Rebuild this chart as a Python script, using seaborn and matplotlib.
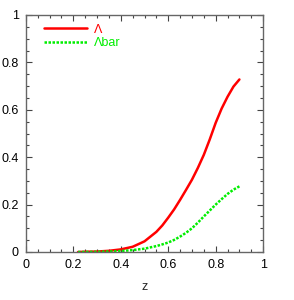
import seaborn as sns
import matplotlib.pyplot as plt
import pandas as pd
from matplotlib.ticker import MultipleLocator, FuncFormatter

z = [0.22, 0.25, 0.30, 0.35, 0.40, 0.45, 0.50, 0.55, 0.575, 0.60, 0.625, 0.65, 0.675,
     0.70, 0.725, 0.75, 0.775, 0.80, 0.825, 0.85, 0.875, 0.90]
a_vals = [0.0, 0.001, 0.002, 0.005, 0.011, 0.022, 0.045, 0.085, 0.112, 0.145, 0.180, 0.22, 0.262,
          0.305, 0.355, 0.41, 0.475, 0.545, 0.605, 0.655, 0.698, 0.728]
abar_vals = [0.0, 0.0003, 0.001, 0.002, 0.004, 0.008, 0.014, 0.025, 0.032, 0.04, 0.051, 0.065, 0.081,
             0.10, 0.124, 0.15, 0.175, 0.20, 0.223, 0.245, 0.263, 0.277]
labels = ["\u039b", "\u039bbar"]

df = pd.concat([
    pd.DataFrame({"z": z, "value": a_vals, "series": labels[0]}),
    pd.DataFrame({"z": z, "value": abar_vals, "series": labels[1]}),
])

sns.set_style("ticks")
plt.rcParams['font.family'] = ['Liberation Sans', 'DejaVu Sans']

fig = plt.figure(figsize=(2.94, 3.0), dpi=100)
ax = fig.add_axes([0.088, 0.16, 0.807, 0.79])

palette = {labels[0]: "#ff0000", labels[1]: "#00ee00"}
sns.lineplot(data=df, x="z", y="value", hue="series", style="series",
             palette=palette, dashes={labels[0]: "", labels[1]: (1, 0.6)},
             linewidth=1.8, ax=ax)

ax.set_xlim(0, 1)
ax.set_ylim(0, 1)
fmt = FuncFormatter(lambda v, p: "{:g}".format(round(v, 2)))
for axis in (ax.xaxis, ax.yaxis):
    axis.set_major_locator(MultipleLocator(0.2))
    axis.set_minor_locator(MultipleLocator(0.05))
    axis.set_major_formatter(fmt)
ax.tick_params(which="both", direction="in", top=True, right=True, colors="#444444",
               labelcolor="black", labelsize=9)
ax.tick_params(which="major", length=4, width=0.8, pad=5)
ax.tick_params(which="minor", length=2, width=0.8)
for s in ax.spines.values():
    s.set_color("#666666")
    s.set_linewidth(1.0)

ax.set_xlabel("z", fontsize=9, labelpad=7)
ax.set_ylabel("")

leg = ax.legend(loc="upper left", frameon=False, fontsize=9, handlelength=3.4,
                handletextpad=0.6, borderaxespad=0.3, labelspacing=0.1,
                bbox_to_anchor=(0.04, 1.0))
for text, line in zip(leg.get_texts(), leg.get_lines()):
    text.set_color(line.get_color())

plt.savefig("out.png", dpi=100)
